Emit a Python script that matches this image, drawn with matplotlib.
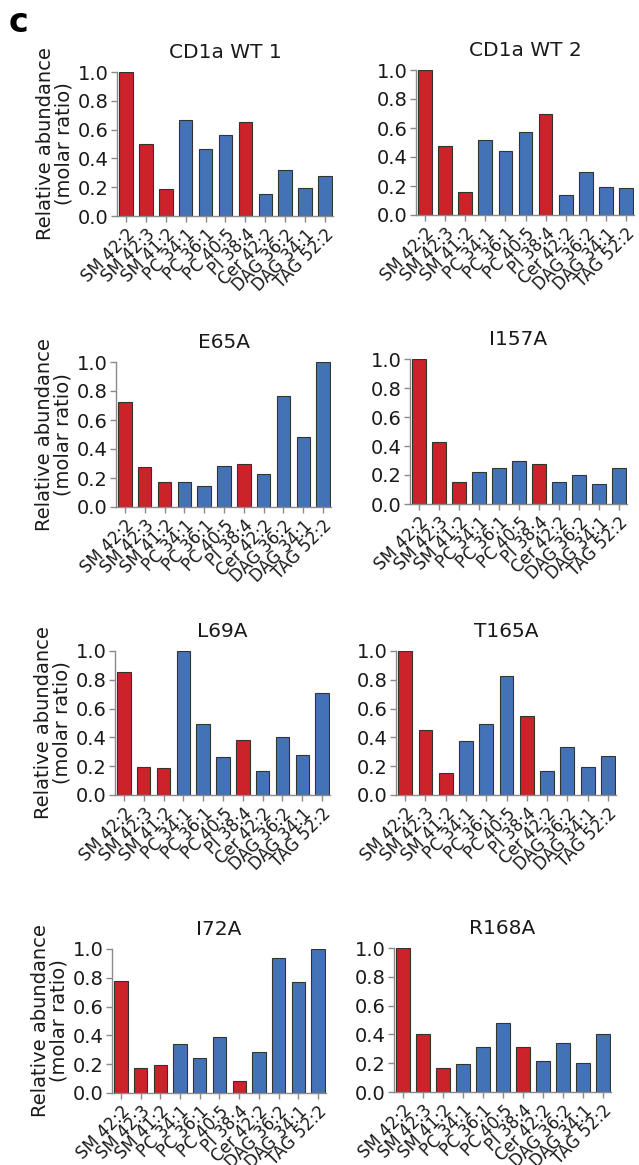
import matplotlib
matplotlib.use("Agg")
import matplotlib.pyplot as plt

plt.rcParams['font.family'] = ['DejaVu Sans']

lipids = ["SM 42:2", "SM 42:3", "SM 41:2", "PC 34:1", "PC 36:1", "PC 40:5",
          "PI 38:4", "Cer 42:2", "DAG 36:2", "DAG 34:1", "TAG 52:2"]
highlight = [True, True, True, False, False, False, True, False, False, False, False]

titles = ["CD1a WT 1", "CD1a WT 2", "E65A", "I157A", "L69A", "T165A", "I72A", "R168A"]

wt1 = [1.0, 0.50, 0.19, 0.665, 0.465, 0.56, 0.655, 0.15, 0.32, 0.195, 0.28]
wt2 = [1.0, 0.475, 0.16, 0.52, 0.44, 0.575, 0.70, 0.14, 0.295, 0.195, 0.185]
e65a = [0.725, 0.275, 0.17, 0.175, 0.145, 0.28, 0.30, 0.23, 0.765, 0.485, 1.0]
i157a = [1.0, 0.43, 0.155, 0.22, 0.245, 0.295, 0.275, 0.15, 0.20, 0.135, 0.25]
l69a = [0.855, 0.195, 0.19, 1.0, 0.495, 0.265, 0.38, 0.17, 0.405, 0.275, 0.71]
t165a = [1.0, 0.45, 0.155, 0.375, 0.495, 0.825, 0.55, 0.17, 0.335, 0.195, 0.27]
i72a = [0.78, 0.175, 0.195, 0.34, 0.245, 0.39, 0.08, 0.285, 0.935, 0.77, 1.0]
r168a = [1.0, 0.405, 0.17, 0.195, 0.31, 0.48, 0.31, 0.215, 0.34, 0.20, 0.40]

series = [wt1, wt2, e65a, i157a, l69a, t165a, i72a, r168a]

yticks = [0.0, 0.2, 0.4, 0.6, 0.8, 1.0]

RED = "#CC2229"
BLUE = "#4472B7"

W, H = 639, 1165
fig = plt.figure(figsize=(W / 100, H / 100), dpi=100)

# axes boxes in pixels: left, top(y=1.0), right, bottom(y=0)
boxes = [
    (117, 72, 333, 216),
    (416, 70, 634, 215),
    (116, 362, 331, 507),
    (410, 359, 627, 504),
    (115, 651, 330, 795),
    (396, 651, 616, 795),
    (112, 949, 326, 1093),
    (394, 948, 611, 1092),
]

gray = "#8a8a8a"
txt = "#1a1a1a"
for i, (vals, title, (l, t, r, b)) in enumerate(zip(series, titles, boxes)):
    ax = fig.add_axes([l / W, 1 - b / H, (r - l) / W, (b - t) / H])
    x = list(range(len(lipids)))
    colors = [RED if h else BLUE for h in highlight]
    ax.bar(x, vals, width=0.68, color=colors, edgecolor="#333333", linewidth=0.8)
    ax.set_xlim(-0.45, 10.4)
    ax.set_ylim(0, 1.0)
    ax.set_yticks(yticks)
    ax.set_yticklabels([f"{v:.1f}" for v in yticks], fontsize=14, color=txt)
    ax.set_xticks(x)
    ax.set_xticklabels(lipids, rotation=45, ha="right", rotation_mode="anchor",
                       fontsize=12, color=txt)
    for s in ["top", "right"]:
        ax.spines[s].set_visible(False)
    for s in ["left", "bottom"]:
        ax.spines[s].set_color(gray)
        ax.spines[s].set_linewidth(1.0)
    ax.tick_params(axis="both", colors=gray, length=4, width=1.0, labelcolor=txt)
    ax.tick_params(axis="y", pad=2)
    ax.tick_params(axis="x", pad=3)
    ax.set_title(title, fontsize=14.5, color=txt, pad=10)
    if i % 2 == 0:
        ax.set_ylabel("Relative abundance\n(molar ratio)", fontsize=14,
                      color=txt, linespacing=0.95, labelpad=3)

fig.text(9 / W, 1 - 22 / H, "c", fontsize=24, fontweight="bold", va="center", ha="left")

fig.savefig("out.png", dpi=100)
